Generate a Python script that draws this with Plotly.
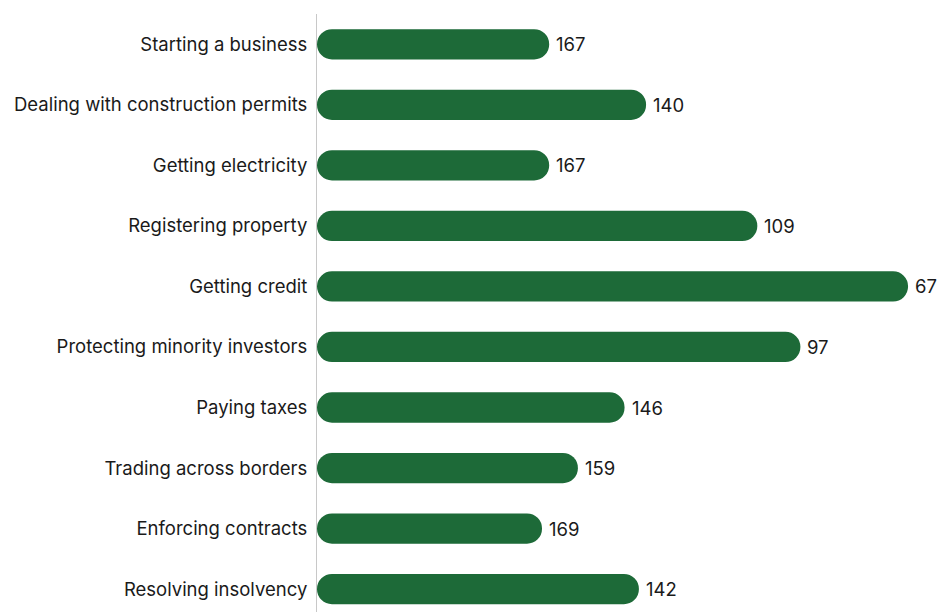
import plotly.graph_objects as go

# Doing Business ranking per indicator (lower rank = better)
indicators = [
    "Starting a business",
    "Dealing with construction permits",
    "Getting electricity",
    "Registering property",
    "Getting credit",
    "Protecting minority investors",
    "Paying taxes",
    "Trading across borders",
    "Enforcing contracts",
    "Resolving insolvency",
]
ranks = [167, 140, 167, 109, 67, 97, 146, 159, 169, 142]

# Bars grow from a common baseline toward better ranks on a reversed axis
baseline = 231.7
axis_end = 58.1

FONT = "Inter"
TEXT_COLOR = "#1a1a1a"
SIZE = 18.5

fig = go.Figure(
    go.Bar(
        y=indicators,
        x=[r - baseline for r in ranks],
        base=[baseline] * len(ranks),
        orientation="h",
        width=0.5,
        marker=dict(color="#1d6a38", cornerradius=15, line=dict(width=0)),
        hovertext=[str(r) for r in ranks],
        hoverinfo="y+text",
    )
)

# Rank labels just past the rounded end of each bar
for name, r in zip(indicators, ranks):
    fig.add_annotation(
        x=r,
        y=name,
        text=str(r),
        showarrow=False,
        xanchor="left",
        yanchor="middle",
        xshift=5,
        font=dict(family=FONT, size=SIZE, color=TEXT_COLOR),
    )

fig.update_layout(
    width=940,
    height=612,
    margin=dict(l=317, r=0, t=14, b=0),
    paper_bgcolor="white",
    plot_bgcolor="white",
    showlegend=False,
    font=dict(family=FONT, size=SIZE, color=TEXT_COLOR),
    xaxis=dict(
        range=[baseline, axis_end],
        showgrid=False,
        zeroline=False,
        showticklabels=False,
        showline=False,
    ),
    yaxis=dict(
        type="category",
        range=[9.378, -0.5],
        showgrid=False,
        zeroline=False,
        showline=True,
        linecolor="#c8c8c8",
        linewidth=1,
        ticks="",
        ticklabelstandoff=5,
        tickfont=dict(family=FONT, size=SIZE, color=TEXT_COLOR),
    ),
)

fig.write_html("out.html")
